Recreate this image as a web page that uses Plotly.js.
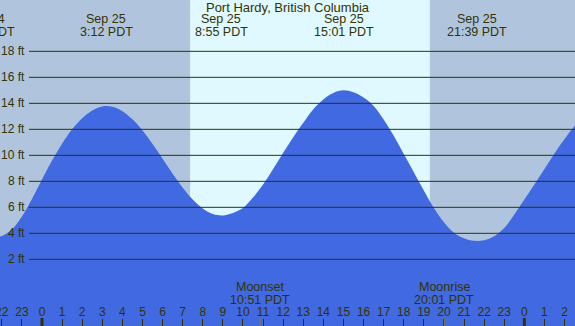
<!DOCTYPE html>
<html>
<head>
<meta charset="utf-8">
<script src="https://cdn.plot.ly/plotly-3.0.1.min.js"></script>
<style>html,body{margin:0;padding:0;background:#fff;}#chart{width:575px;height:326px;}</style>
</head>
<body>
<div id="chart"></div>
<script>
// Tide heights (ft) every half hour, hours from Sep 25 00:00 PDT
const hours = [-2.5,-2,-1.5,-1,-0.5,0,0.5,1,1.5,2,2.5,3,3.5,4,4.5,5,5.5,6,6.5,7,7.5,8,8.5,9,9.5,10,10.5,11,11.5,12,12.5,13,13.5,14,14.5,15,15.5,16,16.5,17,17.5,18,18.5,19,19.5,20,20.5,21,21.5,22,22.5,23,23.5,24,24.5,25,25.5,26,26.5,27];
const heights = [3.64,3.8,4.3,5.3,6.65,8.15,9.6,10.9,12.0,12.85,13.45,13.76,13.74,13.4,12.77,11.91,10.87,9.73,8.58,7.51,6.6,5.91,5.49,5.38,5.57,5.95,6.75,7.75,8.95,10.2,11.4,12.5,13.55,14.3,14.8,15.0,14.85,14.45,13.8,12.75,11.5,10.1,8.7,7.3,5.95,4.85,4.05,3.62,3.42,3.47,3.78,4.4,5.45,6.6,7.75,8.95,10.15,11.25,12.25,13.1];

// Tide extremes labels
const eventTimes = [-2.85, 3.2, 8.917, 15.017, 21.65];
const eventDates = ['Sep 24', 'Sep 25', 'Sep 25', 'Sep 25', 'Sep 25'];
const eventClock = ['21:09 PDT', '3:12 PDT', '8:55 PDT', '15:01 PDT', '21:39 PDT'];

// Moon events
const moonTimes = [10.85, 20.017];
const moonNames = ['Moonset', 'Moonrise'];
const moonClock = ['10:51 PDT', '20:01 PDT'];

// Daylight
const sunrise = 7.37;
const sunset = 19.3;

// Axes
const xRange = [-2.09, 26.52];
const yRange = [-3.13, 21.95];
const tickHours = [-2,-1,0,1,2,3,4,5,6,7,8,9,10,11,12,13,14,15,16,17,18,19,20,21,22,23,24,25,26];
const tickText  = ['22','23','0','1','2','3','4','5','6','7','8','9','10','11','12','13','14','15','16','17','18','19','20','21','22','23','0','1','2'];
const midnights = [0, 24];
const levels = [2, 4, 6, 8, 10, 12, 14, 16, 18];

const ink = '#333300';
const fontFam = '"Liberation Sans", Arial, sans-serif';
const W = 575, H = 326;
const toPaper = t => (t - xRange[0]) / (xRange[1] - xRange[0]);

const traces = [
  {x: [hours[0], hours[hours.length-1]], y: [yRange[0]-2, yRange[0]-2], mode: 'lines', line: {width: 0, color: '#4169e1'}, hoverinfo: 'skip', showlegend: false},
  {x: hours, y: heights, mode: 'lines', line: {shape: 'spline', smoothing: 1, width: 0, color: '#4169e1'},
   fill: 'tonexty', fillcolor: '#4169e1', hoverinfo: 'skip', showlegend: false}
];

const shapes = [];
shapes.push({type: 'rect', xref: 'x', yref: 'paper', x0: sunrise, x1: sunset, y0: 0, y1: 1, fillcolor: '#e0f8ff', line: {width: 0}, layer: 'below'});
levels.forEach(v => shapes.push({type: 'line', xref: 'paper', yref: 'y', x0: 29/W, x1: 1, y0: v, y1: v, line: {color: ink, width: 1}, layer: 'above'}));
midnights.forEach(t => shapes.push({type: 'line', xref: 'x', yref: 'paper', x0: t, x1: t, y0: 0, y1: 8/H, line: {color: ink, width: 3}, layer: 'above'}));
moonTimes.forEach(t => shapes.push({type: 'line', xref: 'x', yref: 'paper', x0: t, x1: t, y0: 0, y1: 8/H, line: {color: '#8a7a20', width: 1}, layer: 'above'}));

const annotations = [];
levels.forEach(v => annotations.push({xref: 'paper', yref: 'y', x: 27/W, y: v, xanchor: 'right', yanchor: 'middle', text: v + ' ft', showarrow: false, font: {size: 12, color: ink, family: fontFam}}));
eventTimes.forEach((t, i) => {
  annotations.push({xref: 'paper', yref: 'paper', x: toPaper(t), y: 1 - 19.5/H, xanchor: 'center', yanchor: 'middle', text: eventDates[i], showarrow: false, font: {size: 12.5, color: ink, family: fontFam}});
  annotations.push({xref: 'paper', yref: 'paper', x: toPaper(t), y: 1 - 31.5/H, xanchor: 'center', yanchor: 'middle', text: eventClock[i], showarrow: false, font: {size: 12.5, color: ink, family: fontFam}});
});
moonTimes.forEach((t, i) => {
  annotations.push({xref: 'x', yref: 'paper', x: t, y: 1 - 287/H, xanchor: 'center', yanchor: 'middle', text: moonNames[i], showarrow: false, font: {size: 12.5, color: ink, family: fontFam}});
  annotations.push({xref: 'x', yref: 'paper', x: t, y: 1 - 299.5/H, xanchor: 'center', yanchor: 'middle', text: moonClock[i], showarrow: false, font: {size: 12.5, color: ink, family: fontFam}});
});
// edge tick label that Plotly would hide because it overflows the plot
annotations.push({xref: 'paper', yref: 'paper', x: toPaper(tickHours[0]), y: 1 - 312/H, xanchor: 'center', yanchor: 'middle', text: tickText[0], showarrow: false, font: {size: 12, color: ink, family: fontFam}});

const layout = {
  width: W, height: H,
  margin: {l: 0, r: 0, t: 0, b: 0, pad: 0},
  paper_bgcolor: '#b0c4de', plot_bgcolor: '#b0c4de',
  title: {text: 'Port Hardy, British Columbia', x: 0.5, xanchor: 'center', y: 1 - 7.5/H, yanchor: 'middle', font: {size: 13, color: ink, family: fontFam}},
  xaxis: {range: xRange, tickmode: 'array', tickvals: tickHours, ticktext: tickText, ticks: 'inside', ticklen: 7, tickwidth: 1, tickcolor: ink,
          ticklabelposition: 'inside', tickfont: {size: 12, color: ink, family: fontFam}, showgrid: false, zeroline: false, showline: false, fixedrange: true},
  yaxis: {range: yRange, showgrid: false, zeroline: false, showticklabels: false, ticks: '', showline: false, fixedrange: true},
  shapes: shapes,
  annotations: annotations,
  showlegend: false
};

Plotly.newPlot('chart', traces, layout, {displayModeBar: false, staticPlot: true});
</script>
</body>
</html>
